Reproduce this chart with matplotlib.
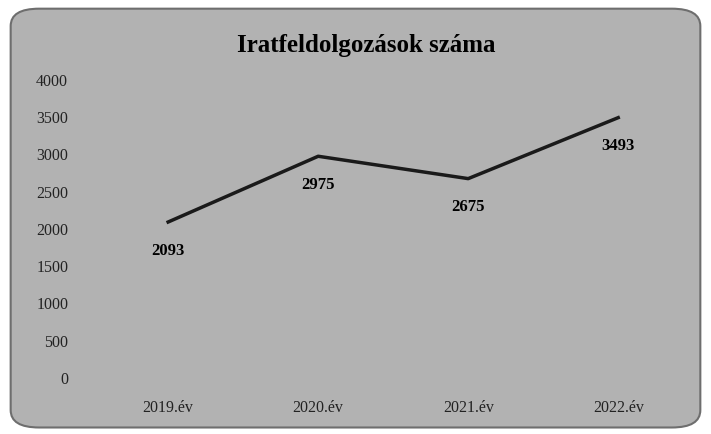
import matplotlib
matplotlib.use('Agg')
from matplotlib import pyplot as plt
from matplotlib.patches import FancyBboxPatch

# chart data
years = ['2019.év', '2020.év', '2021.év', '2022.év']
counts = [2093, 2975, 2675, 3493]
y_ticks = [0, 500, 1000, 1500, 2000, 2500, 3000, 3500, 4000]
title = 'Iratfeldolgozások száma'

plt.rcParams['font.family'] = ['Liberation Serif', 'DejaVu Serif']

fig = plt.figure(figsize=(7.11, 4.34), dpi=100)
fig.patch.set_facecolor('white')

# grey rounded panel behind everything
panel = FancyBboxPatch((0.015, 0.015), 0.97, 0.965,
                       boxstyle='round,pad=0,rounding_size=0.04',
                       transform=fig.transFigure, facecolor='#b2b2b2',
                       edgecolor='#6e6e6e', linewidth=1.5, zorder=-10)
fig.patches.append(panel)

ax = fig.add_axes([0.131, 0.129, 0.844, 0.687])
ax.set_zorder(1)
ax.set_facecolor('none')
x = list(range(len(years)))
ax.plot(x, counts, color='#1a1a1a', linewidth=2.5)

for xi, v in zip(x, counts):
    ax.annotate(str(v), (xi, v), xytext=(0, -15), textcoords='offset points',
                ha='center', va='top', fontsize=12, fontweight='bold')

ax.set_xlim(-0.5, len(years) - 0.5)
ax.set_ylim(0, 4000)
ax.set_yticks(y_ticks)
ax.set_xticks(x)
ax.set_xticklabels(years)
ax.tick_params(length=0, labelsize=11.5, colors='#222222')
ax.tick_params(axis='y', pad=18)
ax.tick_params(axis='x', pad=16)
for s in ax.spines.values():
    s.set_visible(False)

fig.text(0.515, 0.895, title, ha='center', va='center',
         fontsize=18, fontweight='bold')

fig.savefig('out.png', dpi=100)
